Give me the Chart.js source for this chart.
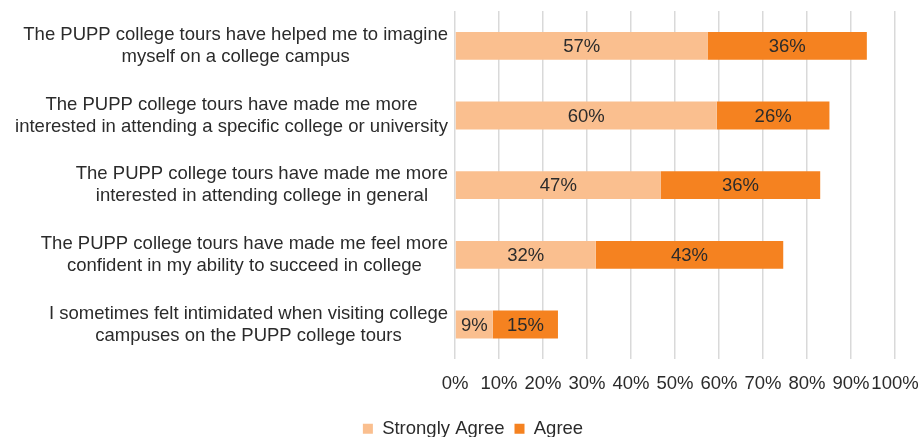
<!DOCTYPE html>
<html>
<head>
<meta charset="utf-8">
<script src="https://cdn.jsdelivr.net/npm/chart.js@4/dist/chart.umd.min.js"></script>
<style>
  html, body { margin: 0; padding: 0; background: #fff; }
  #wrap { width: 922px; height: 437px; position: relative; }
</style>
</head>
<body>
<div id="wrap"><canvas id="tourChart"></canvas></div>
<script>
// Survey statements (wrapped as in the original)
const statements = [
    ['The PUPP college tours have helped me to imagine', 'myself on a college campus'],
    ['The PUPP college tours have made me more', 'interested in attending a specific college or university'],
    ['The PUPP college tours have made me more', 'interested in attending college in general'],
    ['The PUPP college tours have made me feel more', 'confident in my ability to succeed in college'],
    ['I sometimes felt intimidated when visiting college', 'campuses on the PUPP college tours']
];
const stronglyAgree = [57.4, 59.5, 46.8, 32.0, 8.6];
const agree = [36.2, 25.6, 36.2, 42.6, 14.8];
const xTicks = [0, 10, 20, 30, 40, 50, 60, 70, 80, 90, 100];

const textColor = '#2b2b2b';
const fontFamily = '"Liberation Sans", Arial, sans-serif';
const fontSize = 18.5;

// Labels in the middle of each bar segment
const barLabels = {
    id: 'barLabels',
    afterDatasetsDraw(chart) {
        const ctx = chart.ctx;
        ctx.save();
        ctx.font = fontSize + 'px ' + fontFamily;
        ctx.fillStyle = textColor;
        ctx.textAlign = 'center';
        ctx.textBaseline = 'middle';
        chart.data.datasets.forEach((ds, di) => {
            chart.getDatasetMeta(di).data.forEach((bar, i) => {
                const cx = (bar.x + bar.base) / 2;
                ctx.fillText(Math.round(ds.data[i]) + '%', cx, bar.y + 1);
            });
        });
        ctx.restore();
    }
};

// Category labels: block right-aligned to the axis, lines centred inside the block
const categoryLabels = {
    id: 'categoryLabels',
    afterDraw(chart) {
        const ctx = chart.ctx;
        const yScale = chart.scales.y;
        const right = chart.chartArea.left - 7;
        const lineH = 22;
        ctx.save();
        ctx.font = fontSize + 'px ' + fontFamily;
        ctx.fillStyle = textColor;
        ctx.textAlign = 'center';
        ctx.textBaseline = 'middle';
        statements.forEach((lines, i) => {
            const w = Math.max(...lines.map(l => ctx.measureText(l).width));
            const cx = right - w / 2;
            const cy = yScale.getPixelForValue(i);
            lines.forEach((line, k) => {
                ctx.fillText(line, cx, cy + (k - (lines.length - 1) / 2) * lineH);
            });
        });
        ctx.restore();
    }
};

const ctx = document.getElementById('tourChart').getContext('2d');
const tourChart = new Chart(ctx, {
    type: 'bar',
    data: {
        labels: statements,
        datasets: [{
            label: 'Strongly Agree',
            data: stronglyAgree,
            backgroundColor: '#FABF8F',
            borderWidth: 0
        }, {
            label: 'Agree',
            data: agree,
            backgroundColor: '#F58220',
            borderWidth: 0
        }]
    },
    options: {
        indexAxis: 'y',
        responsive: true,
        maintainAspectRatio: false,
        animation: false,
        layout: {
            padding: { left: 51, right: 27, top: 11, bottom: -11 }
        },
        datasets: {
            bar: { categoryPercentage: 1, barPercentage: 0.4 }
        },
        plugins: {
            legend: {
                display: true,
                position: 'bottom',
                labels: {
                    color: textColor,
                    font: { family: fontFamily, size: fontSize },
                    boxWidth: 10,
                    boxHeight: 10,
                    padding: 10
                }
            },
            tooltip: { enabled: false }
        },
        scales: {
            x: {
                stacked: true,
                min: 0,
                max: 100,
                afterBuildTicks(scale) {
                    scale.ticks = xTicks.map(v => ({ value: v }));
                },
                afterFit(scale) {
                    scale.paddingLeft = 0;
                    scale.paddingRight = 0;
                },
                grid: {
                    color: '#D9D9D9',
                    lineWidth: 1.5,
                    drawTicks: false
                },
                border: { display: false },
                ticks: {
                    color: textColor,
                    font: { family: fontFamily, size: fontSize },
                    padding: 14,
                    maxRotation: 0,
                    autoSkip: false,
                    callback: v => v + '%'
                }
            },
            y: {
                stacked: true,
                grid: { display: false },
                border: { display: false },
                ticks: { display: false },
                afterFit(scale) {
                    scale.width = 404;
                }
            }
        }
    },
    plugins: [barLabels, categoryLabels]
});
</script>
</body>
</html>
